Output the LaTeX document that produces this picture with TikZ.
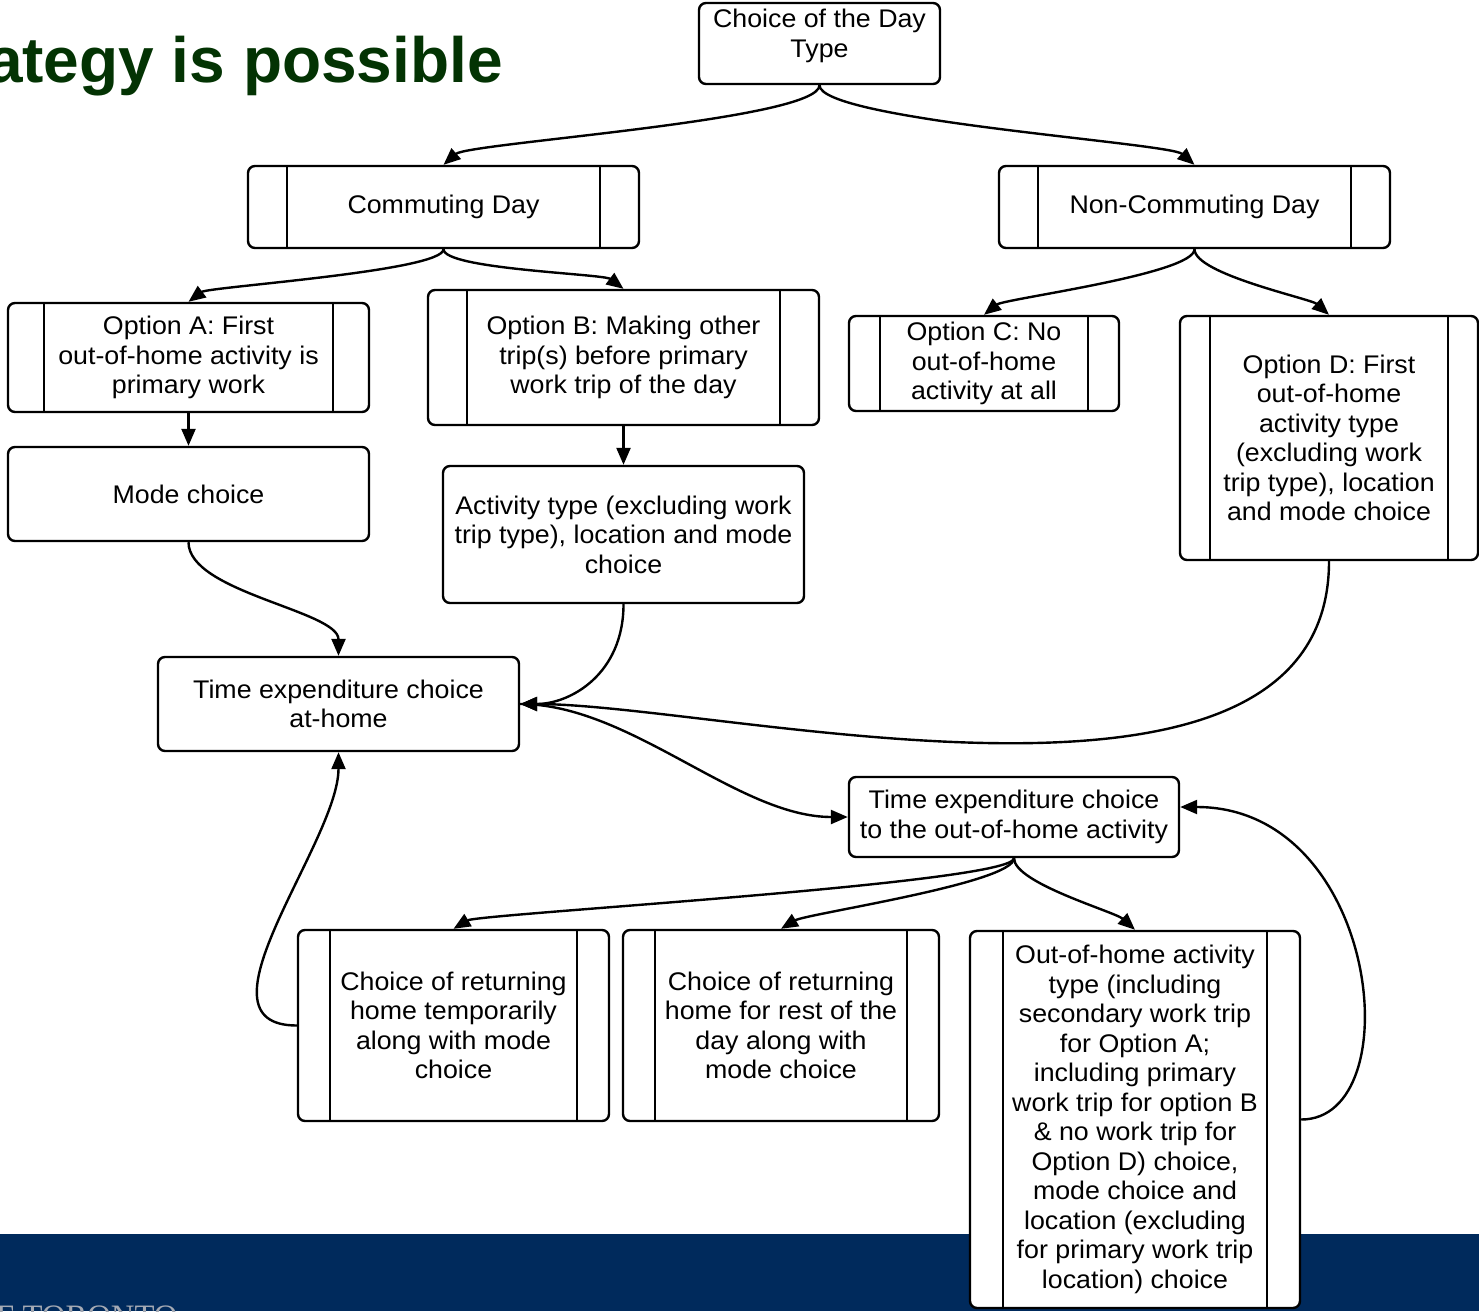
\documentclass[tikz,border=0pt]{standalone}
\usepackage{fontspec}
\setmainfont{Liberation Sans}
\newfontfamily\boxface{Liberation Sans}[FakeStretch=1.05]
\newfontfamily\footserif{Liberation Serif}
\usetikzlibrary{arrows.meta}
\definecolor{titlegreen}{RGB}{3,51,3}
\definecolor{bandblue}{RGB}{0,42,92}
\definecolor{footgrey}{RGB}{165,170,180}
\begin{document}
\begin{tikzpicture}[x=1pt,y=-1pt,
  txt/.style={inner sep=0pt, align=center, font=\boxface\fontsize{25.5}{29.5}\selectfont},
  box/.style={txt, draw=black, line width=2.4pt, rounded corners=7pt, fill=white},
  pbox/.style={box, path picture={
     \draw[line width=2.4pt] ([xshift=#1]path picture bounding box.north west) -- ([xshift=#1]path picture bounding box.south west);
     \draw[line width=2.4pt] ([xshift=-#1]path picture bounding box.north east) -- ([xshift=-#1]path picture bounding box.south east);}},
  arr/.style={line width=2.4pt, -{Triangle[length=17pt,width=14pt]}}
]
\useasboundingbox (0,0) rectangle (1479,1311);
\clip (0,0) rectangle (1479,1311);
\fill[white] (0,0) rectangle (1479,1311);

% footer band and heading
\fill[bandblue] (0,1234) rectangle (1479,1311);
\node[anchor=base west, inner sep=0pt, font=\footserif\fontsize{32.7}{33}\selectfont, text=footgrey] (foot) at (-4,1327) {F TORONTO};
\node[anchor=base east, inner sep=0pt, font=\bfseries\fontsize{64}{64}\selectfont, text=titlegreen] (title) at (503,83) {ategy is possible};

% boxes
\node[box, minimum width=241pt, minimum height=81pt] (day) at (819.5,43.5) {};
\node[txt] (dayT) at (819.5,36) {Choice of the Day\\Type};

\node[pbox=39pt, minimum width=391pt, minimum height=82pt] (comm) at (443.5,207) {Commuting Day};
\node[pbox=39pt, minimum width=391pt, minimum height=82pt] (noncomm) at (1194.5,207) {Non-Commuting Day};

\node[pbox=36pt, minimum width=361pt, minimum height=109pt] (optA) at (188.5,357.5) {Option A: First\\out-of-home activity is\\primary work};
\node[pbox=39pt, minimum width=391pt, minimum height=135pt] (optB) at (623.5,357.5) {Option B: Making other\\trip(s) before primary\\work trip of the day};
\node[pbox=31pt, minimum width=270pt, minimum height=95pt] (optC) at (984,363.5) {Option C: No\\out-of-home\\activity at all};
\node[pbox=30pt, minimum width=298pt, minimum height=244pt] (optD) at (1329,438) {Option D: First\\out-of-home\\activity type\\(excluding work\\trip type), location\\and mode choice};

\node[box, minimum width=361pt, minimum height=94pt] (mode) at (188.5,494) {Mode choice};
\node[box, minimum width=361pt, minimum height=137pt] (act) at (623.5,534.5) {Activity type (excluding work\\trip type), location and mode\\choice};

\node[box, minimum width=361pt, minimum height=94pt] (athome) at (338.5,704) {Time expenditure choice\\at-home};
\node[box, minimum width=330pt, minimum height=80pt] (outtime) at (1014,817) {Time expenditure choice\\to the out-of-home activity};

\node[pbox=32pt, minimum width=311pt, minimum height=191pt] (rtemp) at (453.5,1025.5) {Choice of returning\\home temporarily\\along with mode\\choice};
\node[pbox=32pt, minimum width=316pt, minimum height=191pt] (rrest) at (781,1025.5) {Choice of returning\\home for rest of the\\day along with\\mode choice};
\node[pbox=33pt, minimum width=330pt, minimum height=377pt] (oact) at (1135,1119.5) {Out-of-home activity\\type (including\\secondary work trip\\for Option A;\\including primary\\work trip for option B\\\& no work trip for\\Option D) choice,\\mode choice and\\location (excluding\\for primary work trip\\location) choice};

% connectors
\draw[arr] (day.south) .. controls +(0,35) and +(25,-22) .. (comm.north);
\draw[arr] (day.south) .. controls +(0,35) and +(-25,-22) .. (noncomm.north);
\draw[arr] (comm.south) .. controls +(0,22) and +(20,-15) .. (optA.north);
\draw[arr] (comm.south) .. controls +(0,20) and +(-20,-15) .. (optB.north);
\draw[arr] (noncomm.south) .. controls +(0,25) and +(20,-16) .. (optC.north);
\draw[arr] (noncomm.south) .. controls +(0,25) and +(-18,-16) .. (optD.north);
\draw[arr] (optA.south) -- (mode.north);
\draw[arr] (optB.south) -- (act.north);
\draw[arr] (mode.south) .. controls +(0,50) and +(0,-45) .. (athome.north);
\draw[arr] (act.south) .. controls +(0,70) and +(50,0) .. (athome.east);
\draw[arr] (optD.south) .. controls +(0,295) and +(203,0) .. (athome.east);
\draw[arr] (athome.east) .. controls +(110,0) and +(-110,0) .. (outtime.west);
\draw[arr] (outtime.south) .. controls +(0,25) and +(25,-15) .. (rtemp.north);
\draw[arr] (outtime.south) .. controls +(0,25) and +(25,-15) .. (rrest.north);
\draw[arr] (outtime.south) .. controls +(0,25) and +(-20,-18) .. (oact.north);
\draw[arr] (rtemp.west) .. controls +(-110,0) and +(0,90) .. (athome.south);
\draw[arr] (oact.east) .. controls +(110,0) and +(200,0) .. ([yshift=10pt]outtime.east);
\end{tikzpicture}
\end{document}
